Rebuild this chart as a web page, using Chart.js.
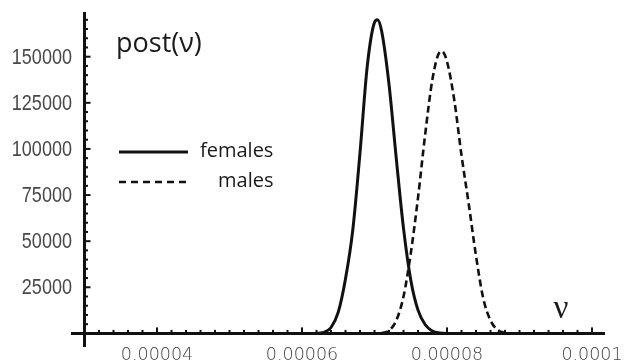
<!DOCTYPE html>
<html>
<head>
<meta charset="utf-8">
<script src="https://cdn.jsdelivr.net/npm/chart.js@4/dist/chart.umd.min.js"></script>
<style>
html,body{margin:0;padding:0;background:#fff;}
#wrap{width:630px;height:362px;}
</style>
</head>
<body>
<div id="wrap"><canvas id="c" width="630" height="362"></canvas></div>
<script>
// ---- data ----
const nuFemales = [0.00003, 0.000062, 0.000063, 0.000064, 0.000065, 0.000066, 0.000067, 0.000068, 0.000069, 0.00007, 0.0000704, 0.000071, 0.000072, 0.000073, 0.000074, 0.000075, 0.000076, 0.000077, 0.000078, 0.000079, 0.00008, 0.0001];
const postFemales = [0, 0, 500, 3200, 11500, 29600, 56000, 98000, 144900, 168600, 170000, 163500, 135000, 94900, 56900, 29000, 12600, 4700, 1200, 200, 0, 0];

const nuMales = [0.00003, 0.00007, 0.000071, 0.000072, 0.000073, 0.000074, 0.000075, 0.000076, 0.000077, 0.000078, 0.000079, 0.0000793, 0.00008, 0.000081, 0.000082, 0.000083, 0.000084, 0.000085, 0.000086, 0.000087, 0.000088, 0.000089, 0.0001];
const postMales = [0, 0, 200, 1500, 7000, 20000, 43400, 73600, 108300, 138000, 152600, 153000, 147300, 126500, 96500, 70000, 42000, 19000, 7000, 1800, 300, 0, 0];

const xTickValues = [0.00004, 0.00006, 0.00008, 0.0001];
const xTickLabels = ['0.00004', '0.00006', '0.00008', '0.0001'];
const yTickValues = [25000, 50000, 75000, 100000, 125000, 150000];
const yTickLabels = ['25000', '50000', '75000', '100000', '125000', '150000'];
const seriesNames = ['females', 'males'];
const yAxisTitle = 'post(\u03bd)';
const xAxisTitle = '\u03bd';

const toPts = (xs, ys) => xs.map((x, i) => ({x: x, y: ys[i]}));

const axesPlugin = {
  id: 'mathAxes',
  afterDatasetsDraw(chart) {
    const ctx = chart.ctx;
    const xs = chart.scales.x, ys = chart.scales.y;
    const ca = chart.chartArea;
    const x0 = xs.getPixelForValue(0.00003);
    const y0 = ys.getPixelForValue(0);
    ctx.save();
    ctx.strokeStyle = '#111';
    ctx.lineCap = 'butt';
    // axis lines
    ctx.lineWidth = 3;
    ctx.beginPath();
    ctx.moveTo(x0, ca.top); ctx.lineTo(x0, ca.bottom);
    ctx.moveTo(ca.left, y0); ctx.lineTo(ca.right, y0);
    ctx.stroke();
    // x ticks (every 0.000002, major every 0.00002)
    for (let k = 1; k <= 35; k++) {
      const v = (30 + 2 * k) * 1e-6;
      const px = xs.getPixelForValue(v);
      const major = (k - 5) % 10 === 0;
      ctx.lineWidth = 2;
      ctx.beginPath();
      ctx.moveTo(px, y0);
      ctx.lineTo(px, y0 - (major ? 6 : 3.5));
      ctx.stroke();
    }
    // y ticks (every 5000, major every 25000)
    for (let j = 1; j <= 34; j++) {
      const v = j * 5000;
      const py = ys.getPixelForValue(v);
      const major = j % 5 === 0;
      ctx.lineWidth = 2;
      ctx.beginPath();
      ctx.moveTo(x0, py);
      ctx.lineTo(x0 + (major ? 6 : 3.5), py);
      ctx.stroke();
    }
    // x tick labels
    ctx.fillStyle = '#444';
    ctx.font = '200 17.5px "DejaVu Sans"';
    ctx.textAlign = 'center';
    ctx.textBaseline = 'alphabetic';
    xTickValues.forEach((v, i) => {
      ctx.fillText(xTickLabels[i], xs.getPixelForValue(v), 360);
    });
    // y tick labels (condensed)
    ctx.fillStyle = '#484848';
    ctx.font = '22px "Liberation Sans"';
    ctx.textAlign = 'right';
    ctx.textBaseline = 'middle';
    yTickValues.forEach((v, i) => {
      const py = ys.getPixelForValue(v);
      ctx.save();
      ctx.translate(72, py + 1);
      ctx.scale(0.82, 1);
      ctx.fillText(yTickLabels[i], 0, 0);
      ctx.restore();
    });
    // axis titles
    ctx.fillStyle = '#1a1a1a';
    ctx.textAlign = 'left';
    ctx.textBaseline = 'alphabetic';
    ctx.font = '27px "Open Sans"';
    ctx.fillText(yAxisTitle, 116, 52);
    ctx.font = '33px "Liberation Serif"';
    ctx.textAlign = 'center';
    ctx.fillText(xAxisTitle, 561, 318);
    // legend
    ctx.lineWidth = 3;
    ctx.beginPath();
    ctx.moveTo(119, 152); ctx.lineTo(188, 152);
    ctx.stroke();
    ctx.setLineDash([7, 5]);
    ctx.lineWidth = 2.5;
    ctx.beginPath();
    ctx.moveTo(119, 182); ctx.lineTo(190, 182);
    ctx.stroke();
    ctx.setLineDash([]);
    ctx.font = '20px "Open Sans"';
    ctx.textAlign = 'left';
    ctx.textBaseline = 'middle';
    ctx.fillText(seriesNames[0], 200, 151);
    ctx.fillText(seriesNames[1], 218, 181);
    ctx.restore();
  }
};

new Chart(document.getElementById('c'), {
  type: 'scatter',
  data: {
    datasets: [
      {
        label: seriesNames[0],
        data: toPts(nuFemales, postFemales),
        showLine: true,
        borderColor: '#111',
        borderWidth: 3,
        pointRadius: 0,
        cubicInterpolationMode: 'monotone'
      },
      {
        label: seriesNames[1],
        data: toPts(nuMales, postMales),
        showLine: true,
        borderColor: '#111',
        borderWidth: 2.6,
        borderDash: [7, 4],
        pointRadius: 0,
        cubicInterpolationMode: 'monotone'
      }
    ]
  },
  options: {
    responsive: false,
    animation: false,
    devicePixelRatio: 1,
    layout: { padding: { left: 71, right: 25, top: 12, bottom: 15 } },
    plugins: { legend: { display: false }, tooltip: { enabled: false } },
    scales: {
      x: { type: 'linear', min: 0.000028138, max: 0.00010179, display: false },
      y: { type: 'linear', min: -7370, max: 174230, display: false }
    }
  },
  plugins: [axesPlugin]
});
</script>
</body>
</html>
